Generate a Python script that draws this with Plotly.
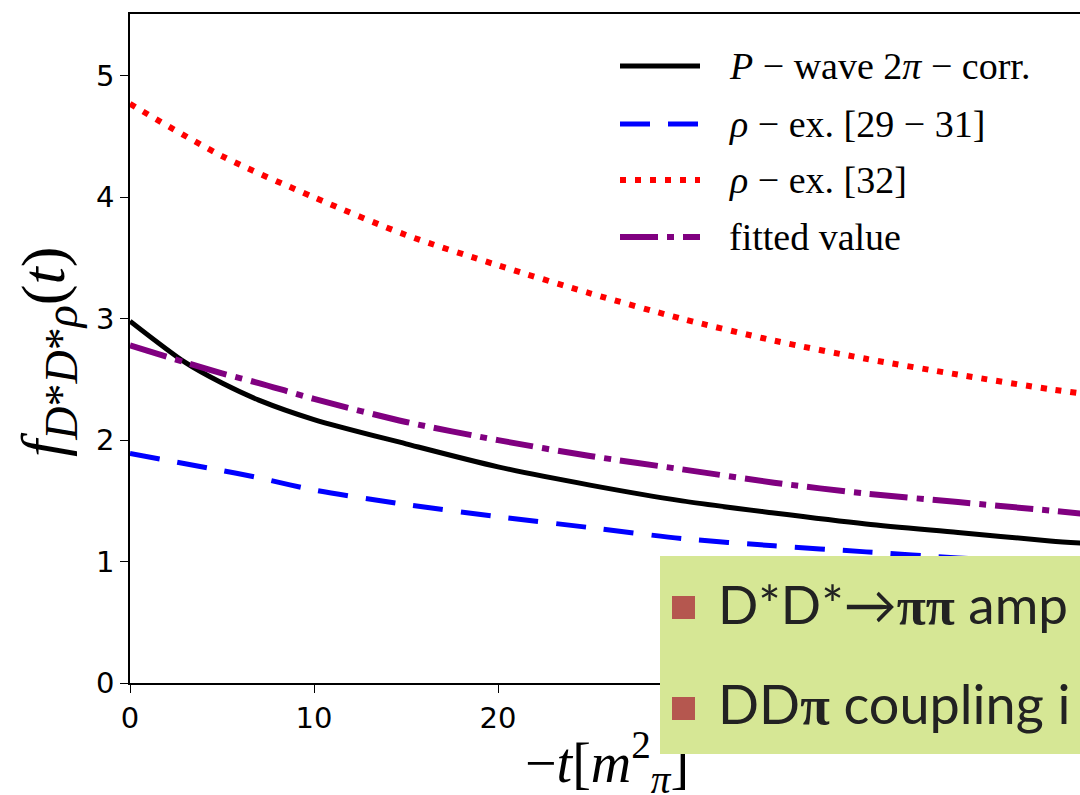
import plotly.graph_objects as go

# ---------------- data ----------------
t_black = [0, 3, 5, 7, 10, 15, 20, 25, 30, 35, 40, 45, 50, 52]
f_black = [2.98, 2.64, 2.47, 2.33, 2.17, 1.97, 1.78, 1.63, 1.50, 1.40, 1.31, 1.24, 1.17, 1.15]

t_blue = [0, 5, 7, 10, 15, 20, 25, 30, 35, 40, 45, 50, 52]
f_blue = [1.89, 1.75, 1.69, 1.59, 1.47, 1.37, 1.28, 1.19, 1.13, 1.08, 1.03, 0.99, 0.97]

t_red = [0, 5, 10, 15, 20, 25, 30, 35, 40, 45, 50, 52]
f_red = [4.77, 4.34, 4.00, 3.69, 3.44, 3.21, 3.00, 2.82, 2.67, 2.54, 2.42, 2.38]

t_purple = [0, 3, 5, 7, 10, 15, 20, 25, 30, 35, 40, 45, 50, 52]
f_purple = [2.78, 2.64, 2.55, 2.47, 2.34, 2.15, 2.00, 1.87, 1.76, 1.65, 1.56, 1.49, 1.42, 1.39]

x_ticks = [0, 10, 20, 30, 40, 50]
y_ticks = [0, 1, 2, 3, 4, 5]

legend_labels = [
    "<i>P</i> − wave 2<i>π</i> − corr.",
    "<i>ρ</i> − ex. [29 − 31]",
    "<i>ρ</i> − ex. [32]",
    "fitted value",
]

# ---------------- styles ----------------
styles = [
    dict(color="black", width=5, dash="solid"),
    dict(color="#0000ff", width=5, dash="30px,18px"),
    dict(color="#ff0000", width=6, dash="6px,9px"),
    dict(color="#800080", width=6, dash="38px,9px,7px,9px"),
]
series = [(t_black, f_black), (t_blue, f_blue), (t_red, f_red), (t_purple, f_purple)]

fig = go.Figure()
for (xs, ys), st in zip(series, styles):
    fig.add_trace(go.Scatter(x=xs, y=ys, mode="lines",
                             line=dict(color=st["color"], width=st["width"], dash=st["dash"],
                                       shape="spline", smoothing=0.8),
                             showlegend=False, hoverinfo="skip"))

L, T, B = 130, 14, 112
W, H = 1080, 795
PW, PH = W - L, H - T - B


def px(xp):
    return (xp - L) / PW


def py(yp):
    return (H - B - yp) / PH


annotations = []
shapes = []

# manual legend
rows = [66, 124, 180, 237]
for lab, st, yr in zip(legend_labels, styles, rows):
    shapes.append(dict(type="line", xref="paper", yref="paper",
                       x0=px(620), x1=px(700), y0=py(yr), y1=py(yr),
                       line=dict(color=st["color"], width=st["width"], dash=st["dash"])))
    annotations.append(dict(xref="paper", yref="paper", x=px(727), y=py(yr),
                            xanchor="left", yanchor="middle", showarrow=False,
                            text=lab, font=dict(family="Liberation Serif", size=38, color="black")))

# axis titles
annotations.append(dict(xref="paper", yref="paper", x=px(48), y=py(352),
                        xanchor="center", yanchor="middle", showarrow=False, textangle=-90,
                        text="<i>f</i><sub><span style='font-size:46px'><i>D</i>*<i>D</i>*<i>ρ</i></span></sub>(<i>t</i>)",
                        font=dict(family="Liberation Serif", size=62, color="black")))
annotations.append(dict(xref="paper", yref="paper", x=px(607), y=py(762),
                        xanchor="center", yanchor="middle", showarrow=False,
                        text="−<i>t</i>[<i>m</i><sup>2</sup><sub><i>π</i></sub>]",
                        font=dict(family="Liberation Serif", size=56, color="black")))

# overlay box (slide panel)
annotations.append(dict(xref="paper", yref="paper", x=px(660), y=py(556),
                        xanchor="left", yanchor="top", showarrow=False,
                        text=" ", width=420, height=198, bgcolor="#d6e795",
                        borderpad=0, borderwidth=0))
for yc in [607.5, 708.5]:
    annotations.append(dict(xref="paper", yref="paper", x=px(683.5), y=py(yc),
                            xanchor="center", yanchor="middle", showarrow=False,
                            text=" ", width=23, height=23, bgcolor="#b5574f",
                            borderpad=0, borderwidth=0))
annotations.append(dict(xref="paper", yref="paper", x=px(716), y=py(603),
                        xanchor="left", yanchor="middle", showarrow=False,
                        text="D*D*→<b><span style='font-family:Liberation Serif'>ππ</span></b> amp",
                        font=dict(family="Lato", size=53, color="#222222")))
annotations.append(dict(xref="paper", yref="paper", x=px(716), y=py(703),
                        xanchor="left", yanchor="middle", showarrow=False,
                        text="DD<b><span style='font-family:Liberation Serif'>π</span></b> coupling i",
                        font=dict(family="Lato", size=54, color="#222222")))

fig.update_layout(
    width=W, height=H,
    margin=dict(l=L, r=0, t=T, b=B),
    paper_bgcolor="white", plot_bgcolor="white",
    shapes=shapes, annotations=annotations,
    xaxis=dict(range=[0, 51.63], tickvals=x_ticks, ticktext=[str(v) for v in x_ticks],
               showgrid=False, zeroline=False, showline=True, linecolor="black", linewidth=1.6,
               mirror=True, ticks="outside", ticklen=8, tickwidth=1.4, tickcolor="black",
               tickfont=dict(family="DejaVu Sans", size=29, color="black")),
    yaxis=dict(range=[0, 5.51], tickvals=y_ticks, ticktext=[str(v) for v in y_ticks],
               showgrid=False, zeroline=False, showline=True, linecolor="black", linewidth=1.6,
               ticks="outside", ticklen=8, tickwidth=1.4, tickcolor="black",
               tickfont=dict(family="DejaVu Sans", size=29, color="black")),
)

fig.write_html("out.html")
